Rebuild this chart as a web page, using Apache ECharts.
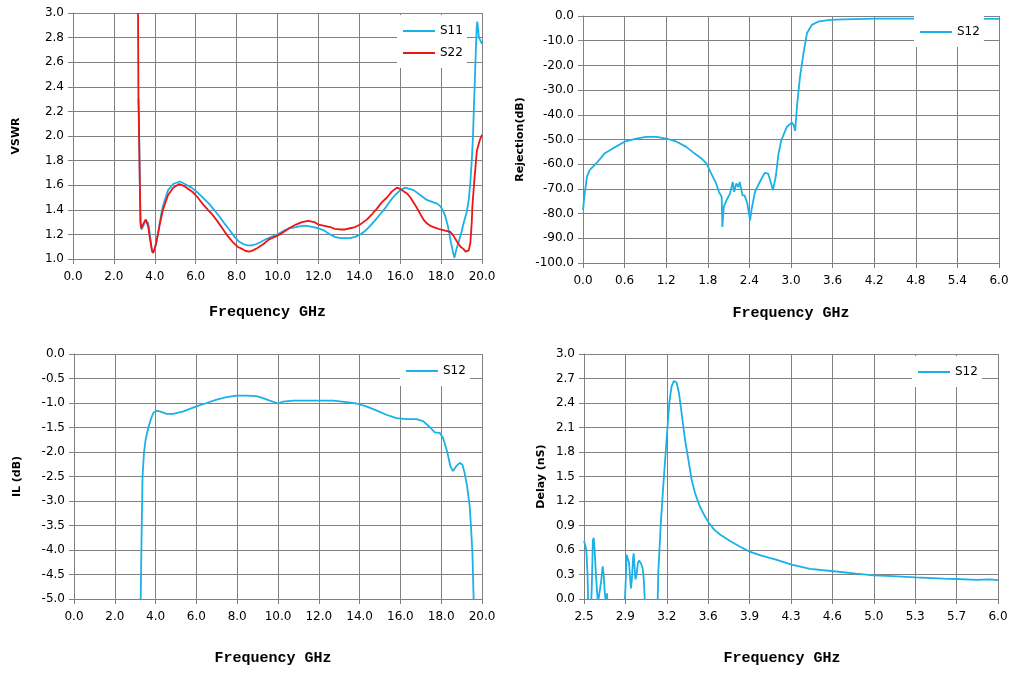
<!DOCTYPE html>
<html>
<head>
	<title>Filter S-parameters</title>
	<meta charset="utf-8">
	<script src="https://cdn.jsdelivr.net/npm/echarts@6/dist/echarts.min.js"></script>
	<style type="text/css">
		html, body { margin: 0; padding: 0; background: #fff; }
		#chart { width: 1017px; height: 675px; }
	</style>
</head>
<body>

<div id="chart"></div>

<script type="text/javascript">

	// ============ VSWR (S11 / S22), frequency in GHz
	var s11Freq = [3.2, 3.22, 3.27, 3.3, 3.35, 3.4, 3.47, 3.54, 3.62, 3.68, 3.74, 3.79, 3.84, 3.89, 3.94, 4.0, 4.08, 4.16, 4.24, 4.32, 4.4, 4.49, 4.65, 4.9, 5.22, 5.47, 5.8, 6.16, 6.4, 6.65, 6.9, 7.14, 7.4, 7.64, 7.9, 8.13, 8.35, 8.54, 8.75, 8.94, 9.2, 9.43, 9.7, 10.0, 10.3, 10.57, 10.9, 11.2, 11.43, 11.75, 12.0, 12.3, 12.57, 12.8, 13.06, 13.3, 13.55, 13.8, 14.04, 14.3, 14.53, 14.75, 15.0, 15.25, 15.5, 15.75, 16.0, 16.25, 16.45, 16.65, 16.98, 17.3, 17.63, 17.8, 17.96, 18.1, 18.2, 18.33, 18.45, 18.55, 18.65, 18.75, 18.86, 19.0, 19.1, 19.25, 19.35, 19.43, 19.51, 19.56, 19.6, 19.65, 19.7, 19.74, 19.77, 19.8, 19.85, 19.9, 20.0];
	var s11Vswr = [2.3, 2.22, 1.6, 1.3, 1.24, 1.23, 1.28, 1.32, 1.31, 1.29, 1.22, 1.16, 1.09, 1.05, 1.05, 1.08, 1.14, 1.21, 1.29, 1.37, 1.43, 1.48, 1.56, 1.61, 1.63, 1.61, 1.58, 1.53, 1.49, 1.45, 1.40, 1.35, 1.29, 1.24, 1.18, 1.14, 1.12, 1.11, 1.11, 1.12, 1.14, 1.16, 1.18, 1.20, 1.23, 1.25, 1.26, 1.27, 1.27, 1.26, 1.25, 1.23, 1.20, 1.18, 1.17, 1.17, 1.17, 1.18, 1.20, 1.23, 1.27, 1.31, 1.36, 1.41, 1.47, 1.52, 1.56, 1.58, 1.57, 1.56, 1.52, 1.48, 1.46, 1.45, 1.43, 1.39, 1.35, 1.27, 1.16, 1.08, 1.01, 1.08, 1.14, 1.22, 1.29, 1.38, 1.48, 1.62, 1.83, 2.0, 2.21, 2.45, 2.7, 2.88, 2.93, 2.92, 2.8, 2.8, 2.75];

	var s22Freq = [3.18, 3.2, 3.24, 3.27, 3.3, 3.33, 3.39, 3.45, 3.56, 3.62, 3.68, 3.74, 3.8, 3.86, 3.92, 3.98, 4.05, 4.14, 4.24, 4.4, 4.65, 4.9, 5.19, 5.47, 5.88, 6.1, 6.33, 6.6, 6.82, 7.05, 7.3, 7.55, 7.8, 8.05, 8.29, 8.45, 8.62, 8.8, 9.02, 9.3, 9.59, 10.0, 10.3, 10.57, 10.9, 11.2, 11.5, 11.8, 12.0, 12.3, 12.57, 12.8, 13.06, 13.3, 13.55, 13.8, 14.04, 14.2, 14.37, 14.6, 14.86, 15.1, 15.35, 15.6, 15.84, 16.0, 16.16, 16.35, 16.5, 16.65, 16.8, 16.97, 17.14, 17.3, 17.47, 17.7, 17.96, 18.2, 18.45, 18.6, 18.78, 18.95, 19.1, 19.2, 19.27, 19.35, 19.43, 19.5, 19.53, 19.64, 19.75, 19.88, 19.94, 20.0];
	var s22Vswr = [3.0, 2.3, 2.3, 1.6, 1.3, 1.25, 1.27, 1.29, 1.32, 1.31, 1.26, 1.19, 1.13, 1.07, 1.05, 1.08, 1.12, 1.19, 1.28, 1.40, 1.52, 1.58, 1.61, 1.59, 1.54, 1.50, 1.45, 1.40, 1.36, 1.31, 1.25, 1.19, 1.14, 1.10, 1.08, 1.065, 1.06, 1.07, 1.09, 1.12, 1.16, 1.19, 1.22, 1.25, 1.28, 1.30, 1.31, 1.30, 1.28, 1.27, 1.26, 1.245, 1.24, 1.24, 1.25, 1.26, 1.28, 1.30, 1.32, 1.36, 1.41, 1.46, 1.50, 1.55, 1.58, 1.57, 1.55, 1.53, 1.50, 1.46, 1.42, 1.37, 1.32, 1.29, 1.27, 1.255, 1.24, 1.23, 1.22, 1.19, 1.14, 1.10, 1.08, 1.06, 1.05, 1.07, 1.13, 1.3, 1.43, 1.67, 1.88, 1.96, 1.95, 2.01];

	// ============ Rejection S12 (dB), 0 - 6 GHz
	var rejFreq = [0.0, 0.024, 0.058, 0.096, 0.19, 0.31, 0.43, 0.6, 0.77, 0.91, 1.06, 1.2, 1.35, 1.49, 1.61, 1.71, 1.78, 1.85, 1.92, 1.96, 2.0, 2.01, 2.03, 2.07, 2.12, 2.16, 2.18, 2.21, 2.24, 2.26, 2.3, 2.33, 2.37, 2.41, 2.43, 2.48, 2.55, 2.62, 2.67, 2.7, 2.74, 2.78, 2.82, 2.86, 2.94, 3.01, 3.04, 3.06, 3.09, 3.13, 3.18, 3.23, 3.3, 3.39, 3.56, 3.75, 4.23, 5.2, 6.0];
	var rejDb = [-78.6, -71.9, -65.0, -62.4, -59.7, -55.7, -53.6, -50.9, -49.6, -48.9, -48.9, -49.6, -50.9, -53.0, -55.7, -57.7, -59.7, -63.8, -67.8, -71.2, -73.2, -85.4, -77.3, -74.6, -71.9, -67.2, -71.2, -67.8, -69.2, -67.2, -72.6, -72.6, -75.9, -82.7, -78.6, -71.2, -67.2, -63.5, -63.8, -66.5, -70.5, -65.1, -55.7, -50.3, -44.9, -43.2, -44.2, -46.5, -35.4, -24.6, -15.1, -7.0, -3.6, -2.3, -1.6, -1.35, -1.1, -1.1, -1.2];

	// ============ Insertion loss S12 (dB), 0 - 20 GHz
	var ilFreq = [3.27, 3.31, 3.36, 3.43, 3.51, 3.64, 3.76, 3.89, 4.05, 4.21, 4.54, 4.87, 5.36, 6.0, 6.5, 6.99, 7.48, 7.97, 8.46, 8.95, 9.27, 9.6, 10.01, 10.25, 10.74, 11.89, 12.7, 13.36, 13.84, 14.33, 14.82, 15.31, 15.8, 16.29, 16.78, 17.11, 17.44, 17.68, 17.93, 18.09, 18.29, 18.45, 18.58, 18.74, 18.91, 19.04, 19.15, 19.27, 19.4, 19.46, 19.53, 19.59];
	var ilDb = [-5.0, -3.79, -2.5, -2.02, -1.75, -1.51, -1.34, -1.2, -1.16, -1.17, -1.22, -1.22, -1.17, -1.07, -1.0, -0.93, -0.88, -0.85, -0.85, -0.86, -0.9, -0.95, -1.01, -0.97, -0.95, -0.95, -0.95, -0.98, -1.01, -1.07, -1.15, -1.24, -1.31, -1.33, -1.33, -1.37, -1.49, -1.6, -1.61, -1.71, -1.99, -2.29, -2.39, -2.29, -2.22, -2.26, -2.43, -2.7, -3.11, -3.52, -4.06, -5.0];

	// ============ Group delay S12 (nS), 2.5 - 6 GHz
	var dlyFreq = [2.5, 2.51, 2.52, 2.53, 2.537, 2.555, 2.565, 2.575, 2.582, 2.59, 2.6, 2.61, 2.618, 2.63, 2.645, 2.658, 2.666, 2.675, 2.688, 2.695, 2.702, 2.84, 2.855, 2.86, 2.87, 2.88, 2.89, 2.897, 2.905, 2.915, 2.92, 2.927, 2.935, 2.945, 2.955, 2.965, 2.98, 2.995, 3.005, 3.012, 3.018, 3.12, 3.128, 3.148, 3.17, 3.2, 3.221, 3.24, 3.26, 3.283, 3.303, 3.325, 3.354, 3.382, 3.41, 3.438, 3.48, 3.523, 3.557, 3.6, 3.65, 3.734, 3.82, 3.9, 4.0, 4.13, 4.255, 4.41, 4.61, 4.8, 4.95, 5.11, 5.3, 5.54, 5.65, 5.82, 5.93, 6.0];
	var dlyNs = [0.71, 0.66, 0.6, 0.3, -0.2, -0.2, 0.1, 0.72, 0.75, 0.6, 0.32, 0.1, -0.05, 0.07, 0.22, 0.4, 0.3, 0.1, -0.1, 0.07, -0.2, -0.2, 0.3, 0.54, 0.52, 0.45, 0.25, 0.13, 0.25, 0.5, 0.56, 0.4, 0.24, 0.3, 0.44, 0.47, 0.44, 0.38, 0.25, 0.05, -0.2, -0.2, 0.32, 0.89, 1.38, 1.99, 2.4, 2.6, 2.67, 2.65, 2.52, 2.28, 1.95, 1.71, 1.46, 1.3, 1.13, 1.01, 0.93, 0.85, 0.79, 0.71, 0.64, 0.58, 0.53, 0.48, 0.42, 0.37, 0.34, 0.31, 0.29, 0.28, 0.265, 0.25, 0.245, 0.235, 0.24, 0.23];
	var dlyStart = 2.5; // delay x axis starts here, ticks every 0.35 GHz

	// 把两个数组拼成 [x, y]
	function pairs(xs, ys, shift) {
		var out = [];
		for (var i = 0; i < xs.length; i++) {
			out.push([xs[i] - (shift || 0), ys[i]]);
		}
		return out;
	}

	var BLUE = '#1BB0E6';
	var RED = '#F01414';
	var GRID_COLOR = '#808080';

	// common value axis
	function makeAxis(gridIndex, isX, min, max, interval, name, nameGap, labelFn, nameShift) {
		return {
			type: 'value',
			gridIndex: gridIndex,
			min: min,
			max: max,
			interval: interval,
			name: name,
			nameLocation: 'middle',
			nameGap: nameGap,
			nameTextStyle: isX ? {
				fontFamily: 'Liberation Mono',
				fontWeight: 'bold',
				fontSize: 15,
				color: '#000',
				padding: [0, 2 * (nameShift || 0), 0, 0]   // nudge title left
			} : {
				fontFamily: 'DejaVu Sans',
				fontWeight: 'bold',
				fontSize: 11,
				color: '#000'
			},
			axisLine: { show: true, onZero: false, lineStyle: { color: GRID_COLOR, width: 1 } },
			axisTick: { show: true, length: 5, lineStyle: { color: GRID_COLOR } },
			splitLine: { show: true, lineStyle: { color: GRID_COLOR, width: 1 } },
			axisLabel: {
				color: '#000',
				fontFamily: 'DejaVu Sans',
				fontSize: 12,
				margin: isX ? 12 : 9,
				formatter: labelFn || function(v) { return v.toFixed(1); }
			}
		};
	}

	function makeLegend(names, left, top) {
		return {
			data: names,
			orient: 'vertical',
			left: left,
			top: top,
			backgroundColor: '#fff',
			padding: [10, 4, 9, 6],
			itemGap: 10,
			itemWidth: 32,
			itemHeight: 2,
			icon: 'rect',
			textStyle: { fontFamily: 'DejaVu Sans', fontSize: 12, color: '#000' }
		};
	}

	function makeLine(name, data, color, axisIndex) {
		return {
			name: name,
			type: 'line',
			xAxisIndex: axisIndex,
			yAxisIndex: axisIndex,
			data: data,
			showSymbol: false,
			clip: true,
			color: color,
			lineStyle: { color: color, width: 1.8 },
			z: 3
		};
	}

	var myChart = echarts.init(document.getElementById('chart'));

	var delayLabel = function(v) {
		return (Math.round((v + dlyStart) * 10 + 1e-6) / 10).toFixed(1);
	};

	var option = {
		backgroundColor: '#fff',
		animation: false,
		grid: [
			{ left: 73, top: 13, width: 409, height: 246 },
			{ left: 583, top: 16, width: 416, height: 247 },
			{ left: 74, top: 354, width: 408, height: 245 },
			{ left: 584, top: 354, width: 414, height: 245 }
		],
		xAxis: [
			makeAxis(0, true, 0, 20, 2, 'Frequency GHz', 46, null, 10),
			makeAxis(1, true, 0, 6, 0.6, 'Frequency GHz', 43, null, 0),
			makeAxis(2, true, 0, 20, 2, 'Frequency GHz', 52, null, 5),
			makeAxis(3, true, 0, 3.5, 0.35, 'Frequency GHz', 52, delayLabel, 9)
		],
		yAxis: [
			makeAxis(0, false, 1, 3, 0.2, 'VSWR', 51),
			makeAxis(1, false, -100, 0, 10, 'Rejection(dB)', 57),
			makeAxis(2, false, -5, 0, 0.5, 'IL (dB)', 51),
			makeAxis(3, false, 0, 3, 0.3, 'Delay (nS)', 37)
		],
		legend: [
			makeLegend(['S11', 'S22'], 397, 15),
			makeLegend([{ name: 'S12' }], 914, 16),
			makeLegend([{ name: 'S12' }], 400, 355),
			makeLegend([{ name: 'S12' }], 912, 356)
		],
		series: [
			makeLine('S11', pairs(s11Freq, s11Vswr), BLUE, 0),
			makeLine('S22', pairs(s22Freq, s22Vswr), RED, 0),
			makeLine('S12', pairs(rejFreq, rejDb), BLUE, 1),
			makeLine('S12', pairs(ilFreq, ilDb), BLUE, 2),
			makeLine('S12', pairs(dlyFreq, dlyNs, dlyStart), BLUE, 3)
		]
	};

	myChart.setOption(option);

</script>

</body>
</html>
